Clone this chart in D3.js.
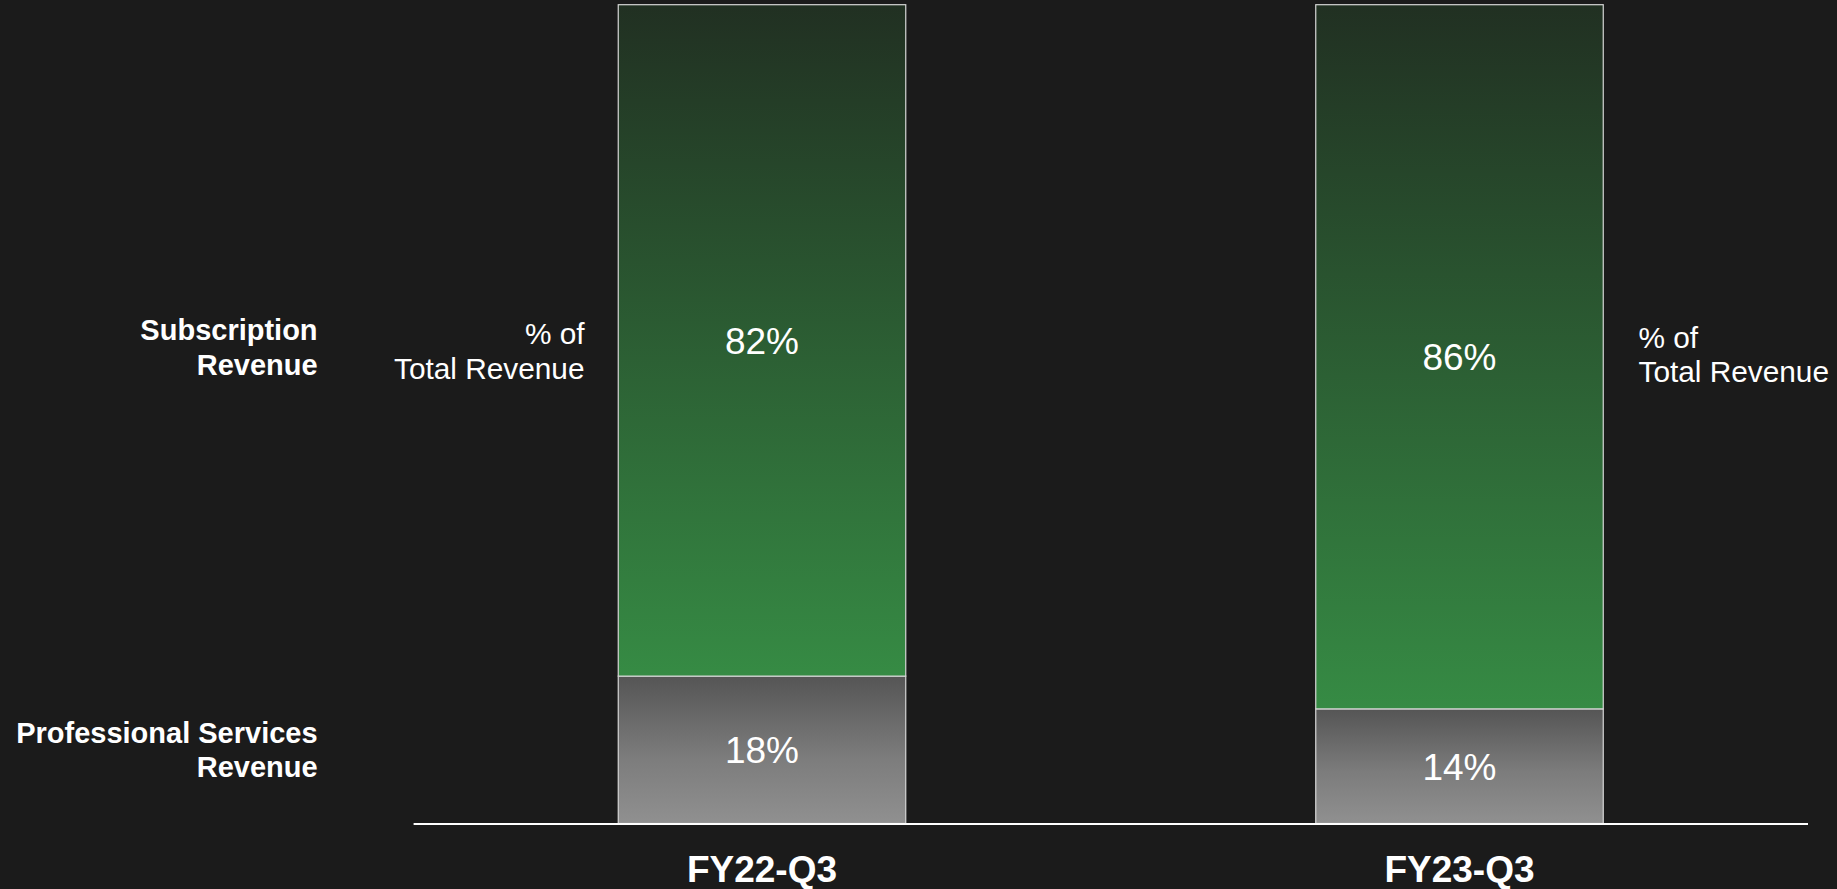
<!DOCTYPE html>
<meta charset="utf-8">
<style>
body { margin: 0; background: #1b1b1b; }
svg { display: block; font-family: "Liberation Sans", Arial, sans-serif; }
</style>
<body>
<script src="https://cdn.jsdelivr.net/npm/d3@7"></script>
<script>
var width = 1837,
    height = 889;

// data
var quarters = ["FY22-Q3", "FY23-Q3"];
var services = [18, 14];
var subscription = [82, 86];
var rowLabels = [["Subscription", "Revenue"], ["Professional Services", "Revenue"]];
var noteLines = ["% of", "Total Revenue"];

var svg = d3.select("body").append("svg")
    .attr("width", width)
    .attr("height", height);

svg.append("rect").attr("width", width).attr("height", height).attr("fill", "#1b1b1b");

var defs = svg.append("defs");
var gGreen = defs.append("linearGradient").attr("id", "green")
    .attr("x1", 0).attr("y1", 0).attr("x2", 0).attr("y2", 1);
gGreen.append("stop").attr("offset", "0%").attr("stop-color", "#213022");
gGreen.append("stop").attr("offset", "100%").attr("stop-color", "#368b44");
var gGray = defs.append("linearGradient").attr("id", "gray")
    .attr("x1", 0).attr("y1", 0).attr("x2", 0).attr("y2", 1);
gGray.append("stop").attr("offset", "0%").attr("stop-color", "#555555");
gGray.append("stop").attr("offset", "55%").attr("stop-color", "#7c7c7c");
gGray.append("stop").attr("offset", "100%").attr("stop-color", "#909090");

// bar centres at ~762 and ~1459
var x = d3.scalePoint().domain(quarters).range([762, 1459.5]);
var barW = 287.5;

var y = d3.scaleLinear().domain([0, 100]).range([823.5, 4.7]);

var rows = quarters.map(function(q, i) {
    return { q: q, svc: services[i], sub: subscription[i] };
});

var bars = svg.selectAll(".bar").data(rows).enter().append("g").attr("class", "bar");

// professional services segment
bars.append("rect")
    .attr("x", function(d) { return x(d.q) - barW / 2; })
    .attr("y", function(d) { return y(d.svc); })
    .attr("width", barW)
    .attr("height", function(d) { return y(0) - y(d.svc); })
    .attr("fill", "url(#gray)")
    .attr("stroke", "#d6d6d6")
    .attr("stroke-width", 1.2);

// subscription segment
bars.append("rect")
    .attr("x", function(d) { return x(d.q) - barW / 2; })
    .attr("y", function(d) { return y(d.svc + d.sub); })
    .attr("width", barW)
    .attr("height", function(d) { return y(d.svc) - y(d.svc + d.sub); })
    .attr("fill", "url(#green)")
    .attr("stroke", "#d6d6d6")
    .attr("stroke-width", 1.2);

bars.append("text")
    .attr("x", function(d) { return x(d.q); })
    .attr("y", function(d) { return (y(0) + y(d.svc)) / 2; })
    .attr("dy", "0.36em")
    .attr("text-anchor", "middle")
    .attr("fill", "#fff")
    .attr("font-size", 37)
    .text(function(d) { return d.svc + "%"; });

bars.append("text")
    .attr("x", function(d) { return x(d.q); })
    .attr("y", function(d) { return (y(d.svc) + y(d.svc + d.sub)) / 2; })
    .attr("dy", "0.36em")
    .attr("text-anchor", "middle")
    .attr("fill", "#fff")
    .attr("font-size", 37)
    .text(function(d) { return d.sub + "%"; });

// baseline axis
svg.append("line")
    .attr("x1", 413.6).attr("x2", 1808)
    .attr("y1", y(0) + 0.5).attr("y2", y(0) + 0.5)
    .attr("stroke", "#ffffff")
    .attr("stroke-width", 2);

svg.selectAll(".qlabel").data(quarters).enter().append("text")
    .attr("class", "qlabel")
    .attr("x", function(d) { return x(d); })
    .attr("y", 881.5)
    .attr("text-anchor", "middle")
    .attr("fill", "#fff")
    .attr("font-size", 37)
    .attr("font-weight", "bold")
    .text(function(d) { return d; });

// row labels on the left
var rowBase = [340, 742.7];
rowLabels.forEach(function(lines, i) {
    var t = svg.append("text")
        .attr("text-anchor", "end")
        .attr("fill", "#fff")
        .attr("font-size", 29)
        .attr("font-weight", "bold");
    lines.forEach(function(l, j) {
        t.append("tspan").attr("x", 317.6).attr("y", rowBase[i] + j * 34.5).text(l);
    });
});

// "% of Total Revenue" notes
function note(xp, yp, anchor) {
    var t = svg.append("text")
        .attr("text-anchor", anchor)
        .attr("fill", "#fff")
        .attr("font-size", 29.8);
    noteLines.forEach(function(l, j) {
        t.append("tspan").attr("x", xp).attr("y", yp + j * 34.5).text(l);
    });
}
note(584.5, 344.3, "end");
note(1638.5, 347.5, "start");
</script>
</body>
